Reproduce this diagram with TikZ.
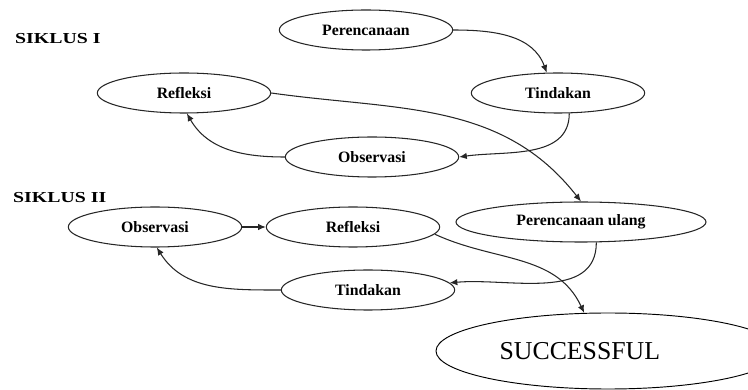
\documentclass[tikz,border=0pt]{standalone}
\usepackage{fontspec}
\setmainfont{Liberation Serif}
\usetikzlibrary{arrows.meta}
\usetikzlibrary{shapes}

\tikzset{
  stage/.style={draw=black!85, line width=0.9pt, ellipse, inner sep=0pt,
    minimum height=1.2cm, font=\fontsize{13.5}{15}\selectfont\bfseries},
  goal/.style={draw, line width=0.8pt, ellipse, inner sep=0pt,
    minimum width=10.32cm, minimum height=2.28cm, font=\fontsize{22}{26}\selectfont},
  cycle/.style={anchor=west, inner sep=0pt, font=\fontsize{13}{15}\selectfont\bfseries},
  flow/.style={draw=black!85, line width=0.9pt, -{Latex[length=6.5pt,width=5.5pt]}}
}
\newcommand\stage[4]{
  \node[stage, minimum width=#3] (#1) at #2 {#4};
}
\newcommand\cycletitle[3]{
  \node[cycle] (#1) at #2 {\scalebox{1.3}[1]{#3}};
}

\begin{document}
\begin{tikzpicture}[x=0.03cm,y=0.03cm]
  %
  \useasboundingbox (0,0) rectangle (748,390);

  \cycletitle{siklusA}{(15,351)}{SIKLUS I}
  \cycletitle{siklusB}{(13,192)}{SIKLUS II}

  % siklus I
  \stage{plan}{(366,360)}{5.2cm}{Perencanaan}
  \stage{actA}{(558,297)}{5.2cm}{Tindakan}
  \stage{obsA}{(372,233)}{5.2cm}{Observasi}
  \stage{refA}{(184,297)}{5.2cm}{Refleksi}

  % siklus II
  \stage{replan}{(581,168)}{7.5cm}{Perencanaan ulang}
  \stage{actB}{(368,100)}{5.2cm}{Tindakan}
  \stage{obsB}{(155,163)}{5.2cm}{Observasi}
  \stage{refB}{(353,163)}{5.2cm}{Refleksi}

  \node[goal] (done) at (608,39) {SUCCESSFUL\hspace*{48pt}};

  \draw[flow] (plan.east) to[out=0,in=110] (actA.119);
  \draw[flow] (actA.299) to[out=-90,in=8] (obsA.east);
  \draw[flow] (obsA.west) to[out=180,in=-60] (refA.278);
  \draw[flow] (refA.east) to[out=-8,in=128] (replan.north);

  \draw[flow] (replan.-53) to[out=-90,in=5] (actB.5);
  \draw[flow] (actB.west) to[out=180,in=-58] (obsB.275);
  \draw[flow] (obsB.east) -- (refB.west);
  \draw[flow] (refB.-5) to[out=-25,in=115] (done.122);

\end{tikzpicture}
\end{document}
